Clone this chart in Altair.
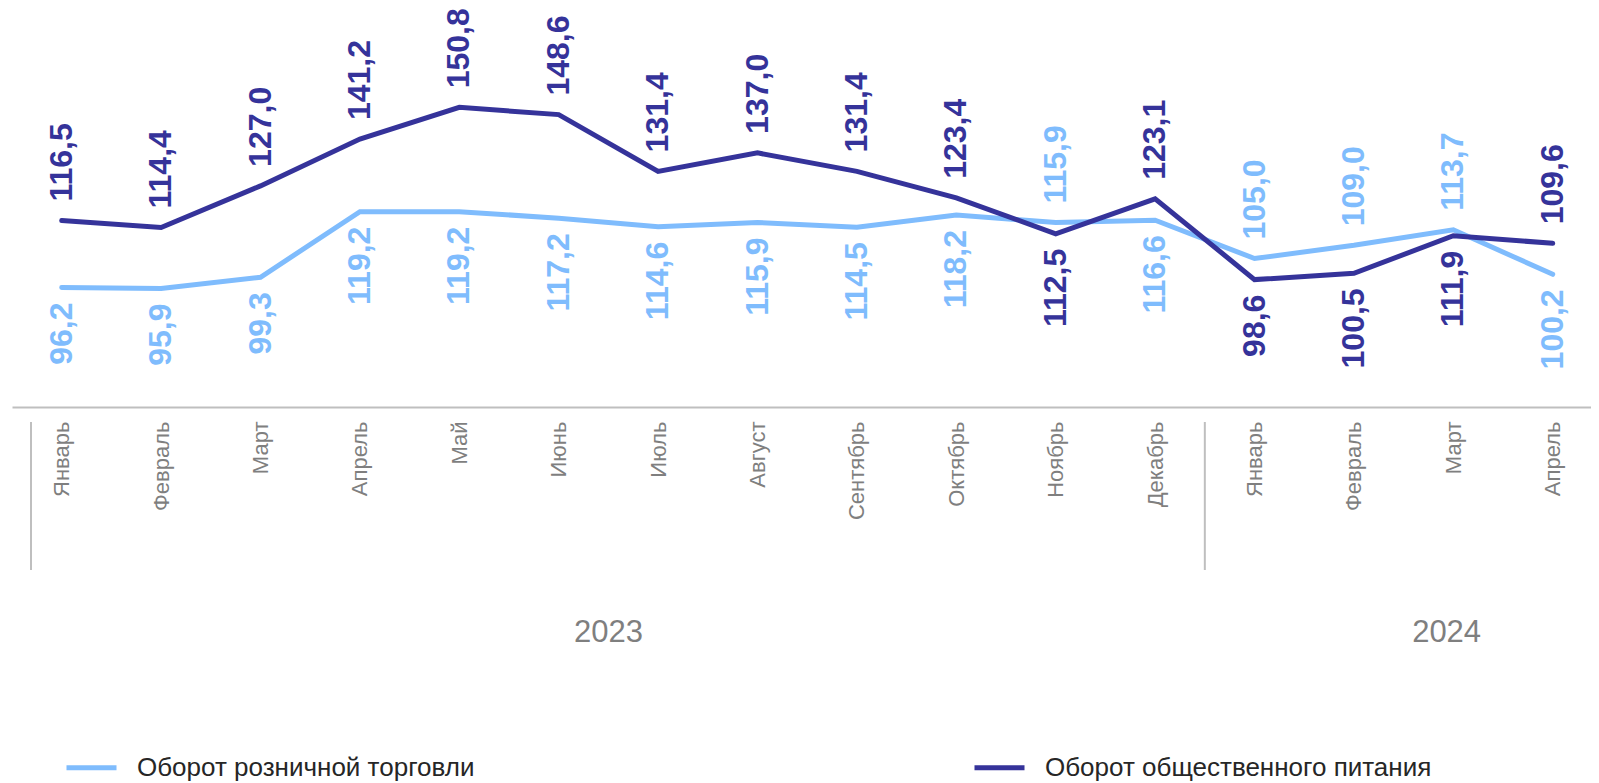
import json
import altair as alt
import pandas as pd

MONTHS = ["Январь", "Февраль", "Март", "Апрель", "Май", "Июнь", "Июль", "Август",
          "Сентябрь", "Октябрь", "Ноябрь", "Декабрь", "Январь", "Февраль", "Март", "Апрель"]
YEARS = [2023] * 12 + [2024] * 4
RETAIL = [96.2, 95.9, 99.3, 119.2, 119.2, 117.2, 114.6, 115.9, 114.5, 118.2, 115.9, 116.6,
          105.0, 109.0, 113.7, 100.2]
FOOD = [116.5, 114.4, 127.0, 141.2, 150.8, 148.6, 131.4, 137.0, 131.4, 123.4, 112.5, 123.1,
        98.6, 100.5, 111.9, 109.6]
SERIES = ["Оборот розничной торговли", "Оборот общественного питания"]
COLORS = ["#7FBCFD", "#35339A"]

FONT = "Liberation Sans"
GREY = "#7F7F7F"

rows = []
for i, (m, yr, r, f) in enumerate(zip(MONTHS, YEARS, RETAIL, FOOD)):
    for s, v, other in ((SERIES[0], r, f), (SERIES[1], f, r)):
        rows.append({
            "idx": i, "month": m, "year": yr, "series": s, "value": v,
            "label": f"{v:.1f}".replace(".", ","),
            "pos": "above" if v >= other else "below",
        })
df = pd.DataFrame(rows)

years_df = pd.DataFrame({"year": YEARS, "idx": list(range(len(YEARS)))})
grp = years_df.groupby("year")["idx"].agg(["min", "max"]).reset_index()
grp["mid"] = (grp["min"] + grp["max"]) / 2
grp["start"] = grp["min"] - 0.5
grp["ylabel"] = grp["year"].astype(str)

n = len(MONTHS)
xscale = alt.Scale(domain=[-0.5, n - 1 + 0.385], nice=False, zero=False)
yscale = alt.Scale(domain=[60, 180], nice=False, zero=False)

x_axis = alt.Axis(
    values=list(range(n)),
    labelExpr=f"{json.dumps(MONTHS, ensure_ascii=False)}[datum.value]",
    labelAngle=270, labelAlign="right", labelBaseline="middle",
    labelFontSize=22, labelFont=FONT, labelColor=GREY, labelPadding=14,
    labelOverlap=False, labelFlush=False,
    ticks=False, grid=False, domainColor="#BFBFBF", domainWidth=2, title=None,
)

color = alt.Color(
    "series:N",
    scale=alt.Scale(domain=SERIES, range=COLORS),
    legend=alt.Legend(
        orient="none", legendX=52, legendY=729, direction="horizontal", title=None,
        symbolType="stroke", symbolSize=2500, symbolStrokeWidth=5,
        labelFontSize=26, labelFont=FONT, labelColor="#262626", labelOffset=18,
        labelLimit=700, columnPadding=489, padding=0,
    ),
)

base = alt.Chart(df)

lines = base.mark_line(strokeWidth=5, strokeCap="round").encode(
    x=alt.X("idx:Q", scale=xscale, axis=x_axis),
    y=alt.Y("value:Q", scale=yscale, axis=None),
    color=color,
    detail="series:N",
)

lab_common = dict(angle=270, baseline="middle", fontSize=32, fontWeight="bold", font=FONT)
lab_color = alt.Color("series:N", scale=alt.Scale(domain=SERIES, range=COLORS), legend=None)
above = base.transform_filter("datum.pos == 'above'").mark_text(
    align="left", dx=19, **lab_common
).encode(
    x=alt.X("idx:Q", scale=xscale), y=alt.Y("value:Q", scale=yscale),
    text="label:N", color=lab_color,
)
below = base.transform_filter("datum.pos == 'below'").mark_text(
    align="right", dx=-15, **lab_common
).encode(
    x=alt.X("idx:Q", scale=xscale), y=alt.Y("value:Q", scale=yscale),
    text="label:N", color=lab_color,
)

gbase = alt.Chart(grp)
sep_first = gbase.transform_filter("datum.year == 2023").mark_rule(
    color="#BFBFBF", strokeWidth=2, xOffset=19
).encode(x=alt.X("start:Q", scale=xscale), y=alt.value(411), y2=alt.value(559))
sep_rest = gbase.transform_filter("datum.year != 2023").mark_rule(
    color="#BFBFBF", strokeWidth=2
).encode(x=alt.X("start:Q", scale=xscale), y=alt.value(411), y2=alt.value(559))

year_common = dict(fontSize=31, font=FONT, color=GREY, align="center", baseline="middle")
year_first = gbase.transform_filter("datum.year == 2023").mark_text(**year_common).encode(
    x=alt.X("mid:Q", scale=xscale), y=alt.value(622), text="ylabel:N")
year_rest = gbase.transform_filter("datum.year != 2023").mark_text(dx=43, **year_common).encode(
    x=alt.X("mid:Q", scale=xscale), y=alt.value(622), text="ylabel:N")

chart = alt.layer(
    lines, above, below, sep_first, sep_rest, year_first, year_rest
).properties(
    width=1579, height=396,
    padding={"left": 4, "top": 0, "right": 0, "bottom": 0},
).configure_view(stroke=None)

chart.save("out.html", embed_options={"renderer": "svg", "actions": False})
